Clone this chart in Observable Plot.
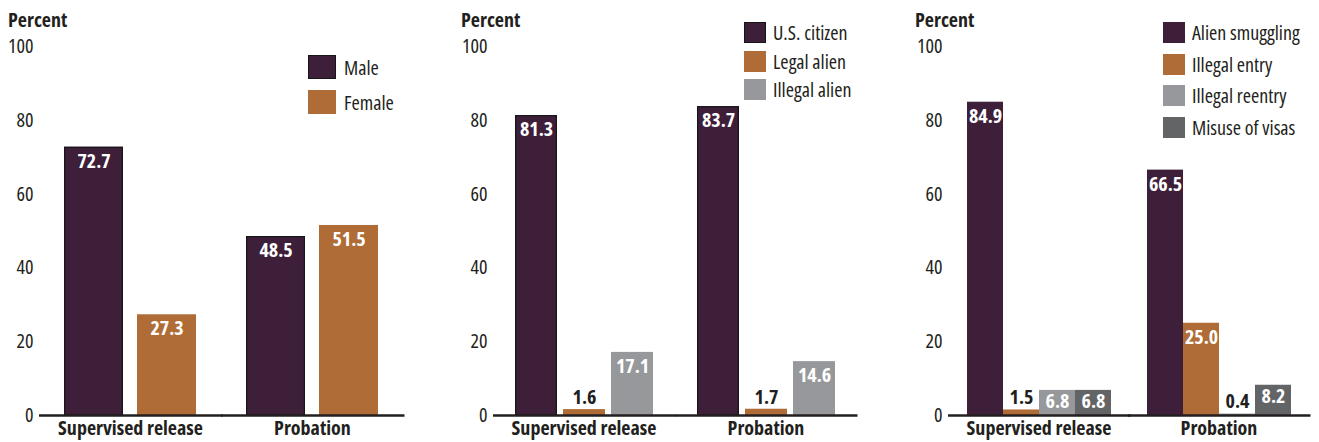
<!DOCTYPE html>
<html>
<head>
<meta charset="utf-8">
<script src="https://cdn.jsdelivr.net/npm/d3@7"></script>
<script src="https://cdn.jsdelivr.net/npm/@observablehq/plot@0.6"></script>
<style>
  html, body { margin: 0; padding: 0; background: white; }
  #wrap { position: relative; width: 1319px; height: 442px; overflow: hidden; color: #231f20; }
  .panel { position: absolute; top: 0; }
  .ylab { position: absolute; top: 6px; font-size: 20px; font-weight: bold; }
  .legend { position: absolute; }
  .lg-item { position: absolute; left: 0; display: flex; align-items: center; white-space: nowrap; font-size: 20px; }
  .lg-sw { box-sizing: border-box; flex: none; }
</style>
</head>
<body>
<div id="wrap"></div>
<script>
// ---- data ----
const categories = ["Supervised release", "Probation"];
const yTicks = [0, 20, 40, 60, 80, 100];

const sexSeries = ["Male", "Female"];
const maleValues = [72.7, 48.5];
const femaleValues = [27.3, 51.5];

const citizenSeries = ["U.S. citizen", "Legal alien", "Illegal alien"];
const usCitizenValues = [81.3, 83.7];
const legalAlienValues = [1.6, 1.7];
const illegalAlienValues = [17.1, 14.6];

const offenseSeries = ["Alien smuggling", "Illegal entry", "Illegal reentry", "Misuse of visas"];
const alienSmugglingValues = [84.9, 66.5];
const illegalEntryValues = [1.5, 25.0];
const illegalReentryValues = [6.8, 0.4];
const misuseOfVisasValues = [6.8, 8.2];

const PURPLE = "#3d1f3a", ORANGE = "#b06c36", LGRAY = "#97989b", DGRAY = "#636466";

const fmt = d3.format(".1f");

// ---- pick the installed font closest to the reference's condensed face ----
function measure(family, stretch) {
  const s = document.createElement("span");
  s.style.cssText = `position:absolute;visibility:hidden;white-space:nowrap;font-size:20px;font-weight:bold;font-stretch:${stretch};font-family:${family}`;
  s.textContent = "Supervised release";
  document.body.appendChild(s);
  const w = s.getBoundingClientRect().width;
  s.remove();
  return w;
}
const candidates = [
  ["Liberation Sans Narrow", "normal"],
  ["Roboto Condensed", "normal"],
  ["DejaVu Sans Condensed", "normal"],
  ["DejaVu Sans", "condensed"],
  ["DejaVu Sans", "semi-condensed"],
  ["Noto Sans", "condensed"],
  ["Noto Sans", "semi-condensed"],
  ["Open Sans", "condensed"],
  ["Open Sans", "semi-condensed"],
  ["Roboto", "condensed"],
  ["Liberation Sans", "normal"],
  ["Roboto", "normal"],
  ["Lato", "normal"]
];
let best = null;
for (const [f, st] of candidates) {
  const exists = measure(`"${f}", monospace`, st) !== measure("monospace", st) ||
                 measure(`"${f}", serif`, st) !== measure("serif", st);
  if (!exists) continue;
  const w = measure(`"${f}"`, st);
  const score = Math.abs(w - 143);
  if (!best || score < best.score) best = {f, st, w, score};
}
if (!best) best = {f: "sans-serif", st: "normal"};
const FONT = `"${best.f}", sans-serif`;
const STRETCH = best.st;

function panel(cfg) {
  const data = [];
  categories.forEach((c, i) => cfg.series.forEach((s, j) => data.push({category: c, series: s, value: cfg.values[j][i]})));
  const small = data.filter(d => d.value < 3);
  const mid = data.filter(d => d.value >= 3 && d.value < 10);
  const tall = data.filter(d => d.value >= 10);
  const textOpts = {fx: "category", x: "series", y: "value", text: d => fmt(d.value), fontWeight: "bold", fontSize: 20, lineAnchor: "middle"};
  const marks = [
    Plot.barY(data, {fx: "category", x: "series", y: "value", fill: "series"}),
  ];
  if (cfg.outlined) {
    marks.push(Plot.barY(data.filter(d => d.series === cfg.series[0]), {fx: "category", x: "series", y: "value", fill: "series", stroke: "#161616", strokeWidth: 1.2, insetLeft: 0.6, insetRight: 0.6, insetTop: 0.6}));
  }
  marks.push(
    Plot.axisY({ticks: yTicks, tickSize: 0, tickPadding: cfg.ext + 6, label: null, fontSize: 20}),
    Plot.axisFx({anchor: "bottom", tickSize: 0, tickPadding: 5, label: null, fontWeight: "bold", fontSize: 20}),
    Plot.ruleY([0], {stroke: "#231f20", strokeWidth: 2.6, insetLeft: -cfg.ext, insetRight: -(cfg.ext + 1.5)}),
    Plot.text(tall, {...textOpts, dy: 14, fill: "white"}),
    Plot.text(mid, {...textOpts, dy: 11, fill: "white"}),
    Plot.text(small, {...textOpts, dy: -12, fill: "#231f20"})
  );
  return Plot.plot({
    width: cfg.width, height: 442,
    marginTop: 46, marginBottom: 27, marginLeft: cfg.marginLeft, marginRight: cfg.marginRight,
    style: {fontFamily: FONT, fontStretch: STRETCH, fontSize: "20px", color: "#231f20", background: "white", overflow: "visible"},
    y: {domain: [0, 100], ticks: yTicks, label: null},
    fx: {domain: categories, paddingInner: cfg.fxIn, paddingOuter: cfg.fxOut, label: null},
    x: {domain: cfg.series, paddingInner: cfg.xIn, paddingOuter: 0, axis: null},
    color: {domain: cfg.series, range: cfg.colors},
    marks
  });
}

const wrap = d3.select("#wrap").style("font-family", FONT).style("font-stretch", STRETCH);

function addPanel(cfg) {
  const el = panel(cfg);
  const div = wrap.append("div").attr("class", "panel").style("left", cfg.left + "px");
  div.node().appendChild(el);
  wrap.append("div").attr("class", "ylab").style("left", (cfg.left + cfg.percentX) + "px").text("Percent");
  const lg = wrap.append("div").attr("class", "legend").style("left", cfg.lg.x + "px").style("top", "0px");
  cfg.series.forEach((s, i) => {
    const it = lg.append("div").attr("class", "lg-item").style("top", cfg.lg.ys[i] + "px").style("height", cfg.lg.h + "px");
    it.append("div").attr("class", "lg-sw")
      .style("width", cfg.lg.w + "px").style("height", cfg.lg.h + "px")
      .style("background", cfg.colors[i])
      .style("border", (cfg.outlined && i === 0) ? "1.5px solid #161616" : "none");
    it.append("span").style("margin-left", cfg.lg.gap + "px").text(s);
  });
}

addPanel({
  left: 0, width: 440, marginLeft: 39, marginRight: 37,
  fxIn: 0.275, fxOut: 0.137, xIn: 0.192, ext: 25,
  series: sexSeries, values: [maleValues, femaleValues], colors: [PURPLE, ORANGE], outlined: true,
  percentX: 8,
  lg: {x: 308, ys: [55, 90], w: 28, h: 24, gap: 8}
});

addPanel({
  left: 440, width: 440, marginLeft: 53, marginRight: 24,
  fxIn: 0.236, fxOut: 0.115, xIn: 0.134, ext: 21,
  series: citizenSeries, values: [usCitizenValues, legalAlienValues, illegalAlienValues], colors: [PURPLE, ORANGE, LGRAY], outlined: true,
  percentX: 21,
  lg: {x: 744, ys: [22, 51, 79], w: 22, h: 21, gap: 7}
});

addPanel({
  left: 880, width: 439, marginLeft: 67, marginRight: 9,
  fxIn: 0.193, fxOut: 0.0994, xIn: 0, ext: 18,
  series: offenseSeries, values: [alienSmugglingValues, illegalEntryValues, illegalReentryValues, misuseOfVisasValues], colors: [PURPLE, ORANGE, LGRAY, DGRAY], outlined: false,
  percentX: 35,
  lg: {x: 1163, ys: [22, 54, 85, 117], w: 22, h: 21, gap: 7}
});
</script>
</body>
</html>
